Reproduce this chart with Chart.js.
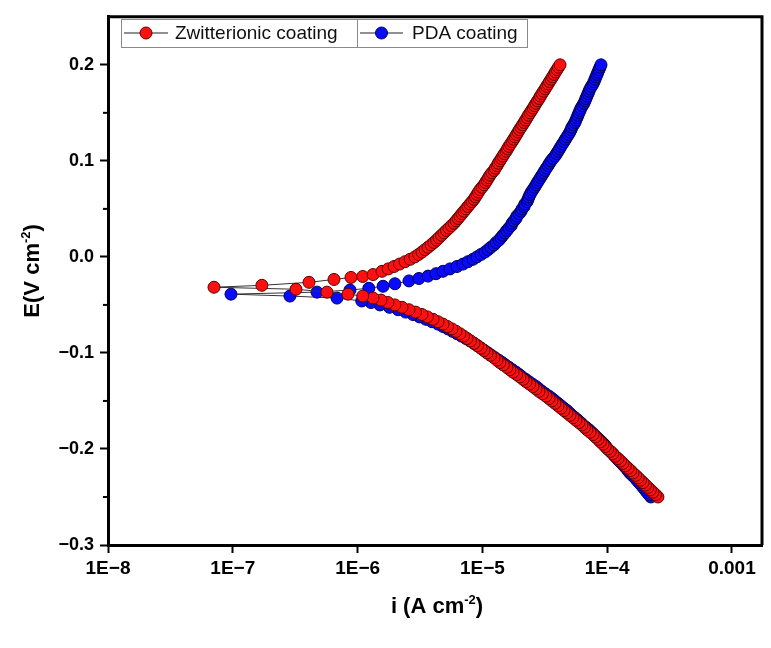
<!DOCTYPE html>
<html>
<head>
<meta charset="utf-8">
<script src="https://cdn.jsdelivr.net/npm/chart.js@4.4.1/dist/chart.umd.min.js"></script>
<style>
  html, body { margin: 0; padding: 0; background: #fff; }
  canvas { display: block; }
</style>
</head>
<body>
<canvas id="tafel" width="771" height="648"></canvas>
<script>
// Zwitterionic coating: potential (V) and current density (A cm-2), ordered by potential
const zwE = [
  -0.25, -0.2475, -0.245, -0.2425, -0.24, -0.2375, -0.235, -0.2325, -0.23, -0.2275,
  -0.225, -0.2225, -0.22, -0.2175, -0.215, -0.2125, -0.21, -0.2075, -0.205, -0.2025,
  -0.2, -0.1975, -0.195, -0.1925, -0.19, -0.1875, -0.185, -0.1825, -0.18, -0.1775,
  -0.175, -0.1725, -0.17, -0.1675, -0.165, -0.1625, -0.16, -0.1575, -0.155, -0.1525,
  -0.15, -0.1475, -0.145, -0.1425, -0.14, -0.1375, -0.135, -0.1325, -0.13, -0.1275,
  -0.125, -0.1225, -0.12, -0.1175, -0.115, -0.1125, -0.11, -0.1075, -0.105, -0.1025,
  -0.1, -0.0975, -0.095, -0.0925, -0.09, -0.0875, -0.085, -0.0825, -0.08, -0.0775,
  -0.075, -0.0725, -0.07, -0.0675, -0.065, -0.0625, -0.06, -0.0575, -0.055, -0.0525,
  -0.05, -0.0475, -0.045, -0.0429, -0.0408, -0.0388, -0.0367, -0.0337, -0.0316, -0.0296,
  -0.0265, -0.0235, -0.0214, -0.0204, -0.0184, -0.015, -0.0125, -0.01, -0.0075, -0.005,
  -0.0025, 0, 0.0025, 0.005, 0.0075, 0.01, 0.0125, 0.015, 0.0175, 0.02,
  0.0225, 0.025, 0.0275, 0.03, 0.0325, 0.035, 0.0375, 0.04, 0.0425, 0.045,
  0.0475, 0.05, 0.0525, 0.055, 0.0575, 0.06, 0.0625, 0.065, 0.0675, 0.07,
  0.0725, 0.075, 0.0775, 0.08, 0.0825, 0.085, 0.0875, 0.09, 0.0925, 0.095,
  0.0975, 0.1, 0.1025, 0.105, 0.1075, 0.11, 0.1125, 0.115, 0.1175, 0.12,
  0.1225, 0.125, 0.1275, 0.13, 0.1325, 0.135, 0.1375, 0.14, 0.1425, 0.145,
  0.1475, 0.15, 0.1525, 0.155, 0.1575, 0.16, 0.1625, 0.165, 0.1675, 0.17,
  0.1725, 0.175, 0.1775, 0.18, 0.1825, 0.185, 0.1875, 0.19, 0.1925, 0.195,
  0.1975, 0.2
];
const zwI = [
  2.55e-4, 2.44e-4, 2.33e-4, 2.22e-4, 2.12e-4, 2.03e-4, 1.94e-4, 1.85e-4, 1.77e-4, 1.69e-4,
  1.61e-4, 1.54e-4, 1.47e-4, 1.40e-4, 1.34e-4, 1.28e-4, 1.22e-4, 1.16e-4, 1.11e-4, 1.06e-4,
  1.01e-4, 9.66e-5, 9.25e-5, 8.83e-5, 8.44e-5, 8.06e-5, 7.70e-5, 7.29e-5, 6.89e-5, 6.58e-5,
  6.28e-5, 5.94e-5, 5.62e-5, 5.32e-5, 5.03e-5, 4.76e-5, 4.51e-5, 4.27e-5, 4.04e-5, 3.82e-5,
  3.61e-5, 3.42e-5, 3.23e-5, 3.03e-5, 2.84e-5, 2.69e-5, 2.54e-5, 2.39e-5, 2.24e-5, 2.12e-5,
  2.00e-5, 1.88e-5, 1.76e-5, 1.66e-5, 1.57e-5, 1.47e-5, 1.38e-5, 1.31e-5, 1.24e-5, 1.16e-5,
  1.09e-5, 1.03e-5, 9.74e-6, 9.14e-6, 8.57e-6, 8.03e-6, 7.53e-6, 7.06e-6, 6.61e-6, 6.15e-6,
  5.71e-6, 5.25e-6, 4.83e-6, 4.41e-6, 4.02e-6, 3.63e-6, 3.28e-6, 2.91e-6, 2.58e-6, 2.27e-6,
  1.99e-6, 1.75e-6, 1.54e-6, 1.33e-6, 1.10e-6, 8.38e-7, 5.68e-7, 3.21e-7, 7.07e-8, 1.71e-7,
  4.08e-7, 6.47e-7, 8.85e-7, 1.10e-6, 1.33e-6, 1.57e-6, 1.76e-6, 1.96e-6, 2.17e-6, 2.40e-6,
  2.64e-6, 2.88e-6, 3.08e-6, 3.28e-6, 3.47e-6, 3.67e-6, 3.88e-6, 4.09e-6, 4.29e-6, 4.49e-6,
  4.70e-6, 4.92e-6, 5.15e-6, 5.40e-6, 5.65e-6, 5.92e-6, 6.15e-6, 6.38e-6, 6.62e-6, 6.86e-6,
  7.12e-6, 7.39e-6, 7.66e-6, 7.95e-6, 8.25e-6, 8.56e-6, 8.80e-6, 9.05e-6, 9.31e-6, 9.57e-6,
  9.93e-6, 1.03e-5, 1.06e-5, 1.09e-5, 1.12e-5, 1.15e-5, 1.19e-5, 1.24e-5, 1.27e-5, 1.31e-5,
  1.34e-5, 1.38e-5, 1.42e-5, 1.46e-5, 1.50e-5, 1.55e-5, 1.59e-5, 1.63e-5, 1.68e-5, 1.73e-5,
  1.78e-5, 1.83e-5, 1.88e-5, 1.93e-5, 1.98e-5, 2.04e-5, 2.10e-5, 2.16e-5, 2.22e-5, 2.28e-5,
  2.34e-5, 2.41e-5, 2.48e-5, 2.55e-5, 2.62e-5, 2.69e-5, 2.77e-5, 2.85e-5, 2.92e-5, 3.00e-5,
  3.09e-5, 3.18e-5, 3.27e-5, 3.36e-5, 3.45e-5, 3.55e-5, 3.65e-5, 3.75e-5, 3.85e-5, 3.96e-5,
  4.07e-5, 4.19e-5
];

// PDA coating
const pdaE = [
  -0.25, -0.2475, -0.245, -0.2425, -0.24, -0.2375, -0.235, -0.2325, -0.23, -0.2275,
  -0.225, -0.2225, -0.22, -0.2175, -0.215, -0.2125, -0.21, -0.2075, -0.205, -0.2025,
  -0.2, -0.1975, -0.195, -0.1925, -0.19, -0.1875, -0.185, -0.1825, -0.18, -0.1775,
  -0.175, -0.1725, -0.17, -0.1675, -0.165, -0.1625, -0.16, -0.1575, -0.155, -0.1525,
  -0.15, -0.1475, -0.145, -0.1425, -0.14, -0.1375, -0.135, -0.1325, -0.13, -0.1275,
  -0.125, -0.1225, -0.12, -0.1175, -0.115, -0.1125, -0.11, -0.1075, -0.105, -0.1025,
  -0.1, -0.0975, -0.095, -0.0925, -0.09, -0.0875, -0.085, -0.0825, -0.08, -0.0775,
  -0.075, -0.0725, -0.07, -0.0675, -0.065, -0.0625, -0.06, -0.0575, -0.055, -0.0525,
  -0.05, -0.0475, -0.0459, -0.0429, -0.0408, -0.0388, -0.0367, -0.0345, -0.0327, -0.0306,
  -0.028, -0.025, -0.0225, -0.02, -0.0175, -0.015, -0.0125, -0.01, -0.0075, -0.005,
  -0.0025, 0, 0.0025, 0.005, 0.0075, 0.01, 0.0125, 0.015, 0.0175, 0.02,
  0.0225, 0.025, 0.0275, 0.03, 0.0325, 0.035, 0.0375, 0.04, 0.0425, 0.045,
  0.0475, 0.05, 0.0525, 0.055, 0.0575, 0.06, 0.0625, 0.065, 0.0675, 0.07,
  0.0725, 0.075, 0.0775, 0.08, 0.0825, 0.085, 0.0875, 0.09, 0.0925, 0.095,
  0.0975, 0.1, 0.1025, 0.105, 0.1075, 0.11, 0.1125, 0.115, 0.1175, 0.12,
  0.1225, 0.125, 0.1275, 0.13, 0.1325, 0.135, 0.1375, 0.14, 0.1425, 0.145,
  0.1475, 0.15, 0.1525, 0.155, 0.1575, 0.16, 0.1625, 0.165, 0.1675, 0.17,
  0.1725, 0.175, 0.1775, 0.18, 0.1825, 0.185, 0.1875, 0.19, 0.1925, 0.195,
  0.1975, 0.2
];
const pdaI = [
  2.24e-4, 2.16e-4, 2.08e-4, 2.01e-4, 1.94e-4, 1.87e-4, 1.80e-4, 1.73e-4, 1.67e-4, 1.59e-4,
  1.52e-4, 1.47e-4, 1.42e-4, 1.36e-4, 1.31e-4, 1.25e-4, 1.20e-4, 1.15e-4, 1.11e-4, 1.06e-4,
  1.01e-4, 9.76e-5, 9.43e-5, 9.00e-5, 8.60e-5, 8.21e-5, 7.84e-5, 7.49e-5, 7.15e-5, 6.76e-5,
  6.40e-5, 6.11e-5, 5.83e-5, 5.52e-5, 5.22e-5, 4.99e-5, 4.76e-5, 4.50e-5, 4.26e-5, 4.03e-5,
  3.82e-5, 3.62e-5, 3.42e-5, 3.20e-5, 3.00e-5, 2.84e-5, 2.69e-5, 2.52e-5, 2.36e-5, 2.22e-5,
  2.08e-5, 1.97e-5, 1.86e-5, 1.74e-5, 1.63e-5, 1.53e-5, 1.44e-5, 1.35e-5, 1.26e-5, 1.18e-5,
  1.11e-5, 1.04e-5, 9.74e-6, 9.14e-6, 8.57e-6, 7.96e-6, 7.39e-6, 6.80e-6, 6.26e-6, 5.76e-6,
  5.30e-6, 4.84e-6, 4.41e-6, 3.95e-6, 3.53e-6, 3.14e-6, 2.78e-6, 2.43e-6, 2.11e-6, 1.80e-6,
  1.51e-6, 1.28e-6, 1.08e-6, 6.84e-7, 2.87e-7, 9.67e-8, 4.73e-7, 8.69e-7, 1.23e-6, 1.60e-6,
  1.99e-6, 2.58e-6, 3.10e-6, 3.67e-6, 4.25e-6, 4.83e-6, 5.50e-6, 6.26e-6, 6.99e-6, 7.67e-6,
  8.41e-6, 9.05e-6, 9.74e-6, 1.05e-5, 1.11e-5, 1.17e-5, 1.24e-5, 1.29e-5, 1.36e-5, 1.41e-5,
  1.46e-5, 1.52e-5, 1.57e-5, 1.63e-5, 1.70e-5, 1.73e-5, 1.79e-5, 1.86e-5, 1.89e-5, 1.97e-5,
  2.04e-5, 2.08e-5, 2.16e-5, 2.19e-5, 2.28e-5, 2.32e-5, 2.36e-5, 2.41e-5, 2.47e-5, 2.54e-5,
  2.62e-5, 2.69e-5, 2.76e-5, 2.84e-5, 2.92e-5, 3.00e-5, 3.09e-5, 3.17e-5, 3.26e-5, 3.36e-5,
  3.45e-5, 3.55e-5, 3.68e-5, 3.82e-5, 3.93e-5, 4.04e-5, 4.15e-5, 4.26e-5, 4.38e-5, 4.51e-5,
  4.63e-5, 4.76e-5, 4.90e-5, 5.03e-5, 5.13e-5, 5.22e-5, 5.37e-5, 5.52e-5, 5.62e-5, 5.73e-5,
  5.83e-5, 5.94e-5, 6.06e-5, 6.17e-5, 6.34e-5, 6.52e-5, 6.64e-5, 6.76e-5, 6.89e-5, 7.02e-5,
  7.15e-5, 7.28e-5, 7.48e-5, 7.70e-5, 7.84e-5, 7.99e-5, 8.13e-5, 8.29e-5, 8.44e-5, 8.60e-5,
  8.76e-5, 8.92e-5
];

const seriesNames = ['Zwitterionic coating', 'PDA coating'];

const xTickValues = [1e-8, 1e-7, 1e-6, 1e-5, 1e-4, 1e-3];
const xTickLabels = ['1E\u22128', '1E\u22127', '1E\u22126', '1E\u22125', '1E\u22124', '0.001'];
const yTickValues = [-0.3, -0.2, -0.1, 0.0, 0.1, 0.2];
const yTickLabels = ['\u22120.3', '\u22120.2', '\u22120.1', '0.0', '0.1', '0.2'];

const FONT = '"Liberation Sans", Arial, sans-serif';

function toPoints(xs, ys) {
    return xs.map((v, k) => ({ x: v, y: ys[k] }));
}

// text with a raised "-2" part, drawn centred at (0,0) of the current transform
function drawSupTitle(ctx, before, sup, after, size) {
    const big = 'bold ' + size + 'px ' + FONT;
    const small = 'bold ' + Math.round(size * 0.6) + 'px ' + FONT;
    ctx.font = big;
    const w1 = ctx.measureText(before).width;
    const w3 = ctx.measureText(after).width;
    ctx.font = small;
    const w2 = ctx.measureText(sup).width;
    let x = -(w1 + w2 + w3) / 2;
    ctx.textBaseline = 'alphabetic';
    ctx.textAlign = 'left';
    ctx.fillStyle = '#000';
    ctx.font = big;
    ctx.fillText(before, x, 0);
    x += w1;
    ctx.font = small;
    ctx.fillText(sup, x, -size * 0.42);
    x += w2;
    ctx.font = big;
    ctx.fillText(after, x, 0);
}

const decorPlugin = {
    id: 'decor',
    afterDraw(chart) {
        const ctx = chart.ctx;
        const area = chart.chartArea;
        const yScale = chart.scales.y;

        ctx.save();
        // top and right frame
        ctx.strokeStyle = '#000';
        ctx.lineWidth = 3;
        ctx.beginPath();
        ctx.moveTo(area.left, area.top);
        ctx.lineTo(area.right, area.top);
        ctx.lineTo(area.right, area.bottom);
        ctx.stroke();

        // minor ticks on the y axis, half way between the labelled ones
        ctx.lineWidth = 2;
        for (let k = 0; k < yTickValues.length - 1; k++) {
            const py = yScale.getPixelForValue((yTickValues[k] + yTickValues[k + 1]) / 2);
            ctx.beginPath();
            ctx.moveTo(area.left, py);
            ctx.lineTo(area.left - 5, py);
            ctx.stroke();
        }

        // legend box
        const lx = 121, ly = 19, lw = 406, lh = 28, split = 357;
        ctx.strokeStyle = '#8a8a8a';
        ctx.lineWidth = 1;
        ctx.strokeRect(lx + 0.5, ly + 0.5, lw, lh);
        ctx.beginPath();
        ctx.moveTo(split + 0.5, ly);
        ctx.lineTo(split + 0.5, ly + lh);
        ctx.stroke();

        const entries = [
            { x0: 124, x1: 168, text: 175 },
            { x0: 360, x1: 403, text: 412 }
        ];
        const cy = ly + lh / 2;
        chart.data.datasets.forEach((ds, k) => {
            const e = entries[k];
            ctx.strokeStyle = '#222';
            ctx.lineWidth = 1.2;
            ctx.beginPath();
            ctx.moveTo(e.x0, cy);
            ctx.lineTo(e.x1, cy);
            ctx.stroke();
            ctx.beginPath();
            ctx.arc((e.x0 + e.x1) / 2, cy, 6, 0, Math.PI * 2);
            ctx.fillStyle = ds.pointBackgroundColor;
            ctx.fill();
            ctx.strokeStyle = ds.pointBorderColor;
            ctx.lineWidth = 1;
            ctx.stroke();
            ctx.fillStyle = '#111';
            ctx.font = '19px ' + FONT;
            ctx.textAlign = 'left';
            ctx.textBaseline = 'middle';
            ctx.fillText(ds.label, e.text, cy + 1);
        });

        // axis titles
        ctx.save();
        ctx.translate((area.left + area.right) / 2 + 2, 613);
        drawSupTitle(ctx, 'i (A cm', '-2', ')', 22);
        ctx.restore();

        ctx.save();
        ctx.translate(39, (area.top + area.bottom) / 2 - 10);
        ctx.rotate(-Math.PI / 2);
        drawSupTitle(ctx, 'E(V cm', '-2', ')', 22);
        ctx.restore();

        ctx.restore();
    }
};

const ctx = document.getElementById('tafel').getContext('2d');

new Chart(ctx, {
    type: 'scatter',
    data: {
        datasets: [
            {
                label: seriesNames[0],
                data: toPoints(zwI, zwE),
                showLine: true,
                borderColor: '#333',
                borderWidth: 1,
                pointRadius: 6,
                pointBackgroundColor: '#ff1010',
                pointBorderColor: '#5a0000',
                pointBorderWidth: 1
            },
            {
                label: seriesNames[1],
                data: toPoints(pdaI, pdaE),
                showLine: true,
                borderColor: '#333',
                borderWidth: 1,
                pointRadius: 6,
                pointBackgroundColor: '#0a0aff',
                pointBorderColor: '#00005a',
                pointBorderWidth: 1
            }
        ]
    },
    options: {
        responsive: false,
        animation: false,
        layout: {
            padding: { left: 0, top: 7, right: 9, bottom: 0 }
        },
        plugins: {
            legend: { display: false },
            tooltip: { enabled: false }
        },
        scales: {
            x: {
                type: 'logarithmic',
                min: 1e-8,
                max: 1.74e-3,
                afterBuildTicks: (scale) => {
                    scale.ticks = xTickValues.map(v => ({ value: v }));
                },
                afterFit: (scale) => { scale.height = 103; },
                ticks: {
                    autoSkip: false,
                    maxRotation: 0,
                    padding: 4,
                    color: '#000',
                    font: { family: FONT, size: 19, weight: 'bold' },
                    callback: (value, index) => xTickLabels[index]
                },
                grid: {
                    drawOnChartArea: false,
                    drawTicks: true,
                    tickLength: 8,
                    tickColor: '#000',
                    tickWidth: 2
                },
                border: { display: true, color: '#000', width: 3 }
            },
            y: {
                type: 'linear',
                min: -0.3,
                max: 0.25,
                afterBuildTicks: (scale) => {
                    scale.ticks = yTickValues.map(v => ({ value: v }));
                },
                afterFit: (scale) => { scale.width = 108; },
                ticks: {
                    autoSkip: false,
                    padding: 6,
                    color: '#000',
                    font: { family: FONT, size: 18, weight: 'bold' },
                    callback: (value, index) => yTickLabels[index]
                },
                grid: {
                    drawOnChartArea: false,
                    drawTicks: true,
                    tickLength: 8,
                    tickColor: '#000',
                    tickWidth: 2
                },
                border: { display: true, color: '#000', width: 3 }
            }
        }
    },
    plugins: [decorPlugin]
});
</script>
</body>
</html>
